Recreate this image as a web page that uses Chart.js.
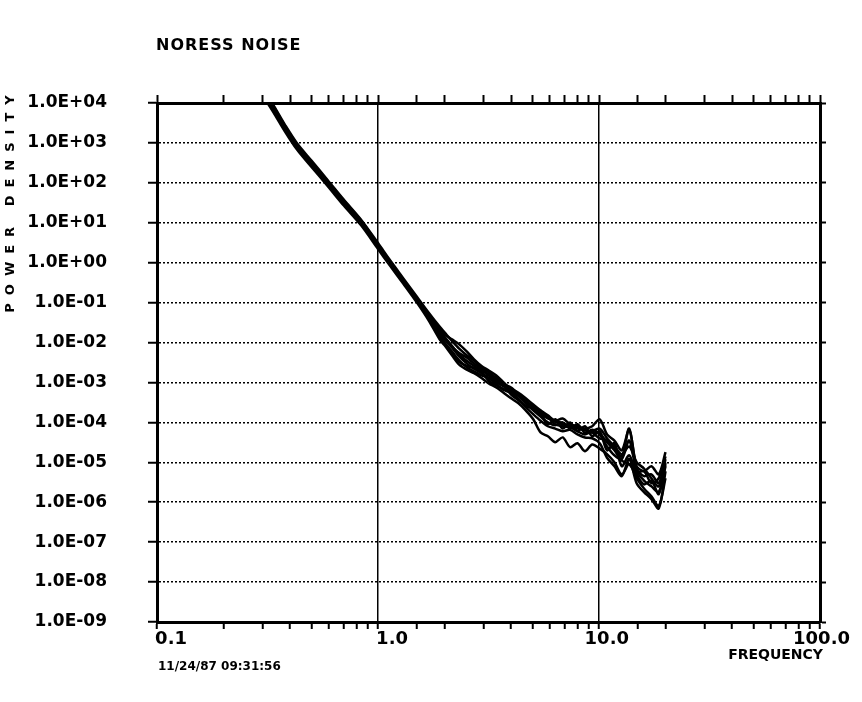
<!DOCTYPE html>
<html>
<head>
<meta charset="utf-8">
<title>NORESS NOISE</title>
<script src="https://cdn.jsdelivr.net/npm/chart.js@4.4.0/dist/chart.umd.min.js"></script>
<style>
  body { margin: 0; background: #fff; }
  #wrap { width: 862px; height: 702px; }
</style>
</head>
<body>
<div id="wrap"><canvas id="myChart" width="862" height="702"></canvas></div>
<script>
const titleText = 'NORESS NOISE';
const yTitle = 'POWER DENSITY';
const xTitle = 'FREQUENCY';
const stampText = '11/24/87 09:31:56';

const xTickValues = [0.1, 1, 10, 100];
const xTickLabels = ['0.1', '1.0', '10.0', '100.0'];
const yTickValues = [1e4, 1e3, 1e2, 1e1, 1e0, 1e-1, 1e-2, 1e-3, 1e-4, 1e-5, 1e-6, 1e-7, 1e-8, 1e-9];
const yTickLabels = ['1.0E+04', '1.0E+03', '1.0E+02', '1.0E+01', '1.0E+00', '1.0E-01', '1.0E-02',
                     '1.0E-03', '1.0E-04', '1.0E-05', '1.0E-06', '1.0E-07', '1.0E-08', '1.0E-09'];

// frequencies (Hz) shared by every spectrum
const freq = [0.30, 0.34, 0.38, 0.43, 0.50, 0.59, 0.70, 0.84, 1.00, 1.13,
              1.30, 1.50, 1.70, 1.90, 2.00, 2.16, 2.33, 2.52, 2.72, 2.94,
              3.17, 3.43, 3.70, 4.00, 4.32, 4.66, 5.04, 5.44, 5.87, 6.34,
              6.85, 7.40, 7.99, 8.63, 9.32, 10.07, 10.87, 11.74, 12.68, 13.70,
              14.80, 15.98, 17.26, 18.64, 20.00];

const spectrumA = [2.2e4, 7.2e3, 2.5e3, 8.9e2, 3.2e2, 1.1e2, 35, 11, 2.8, 1.07,
                   0.38, 0.126, 0.047, 0.020, 0.014, 8.3e-3, 5.0e-3, 3.5e-3, 2.6e-3, 2.0e-3,
                   1.5e-3, 1.07e-3, 8.3e-4, 6.3e-4, 4.8e-4, 3.3e-4, 2.4e-4, 1.6e-4, 1.26e-4, 1.1e-4,
                   9.5e-5, 8.3e-5, 7.6e-5, 6.3e-5, 5.6e-5, 5.2e-5, 3.2e-5, 2.0e-5, 1.1e-5, 8.9e-6,
                   5.6e-6, 6e-6, 3e-6, 4e-6, 1.4e-5];
const spectrumB = [2.5e4, 8.0e3, 2.8e3, 9.8e2, 3.6e2, 1.2e2, 38, 11.8, 3.1, 1.18,
                   0.41, 0.14, 0.055, 0.025, 0.018, 0.011, 7.0e-3, 4.8e-3, 3.5e-3, 2.4e-3,
                   1.8e-3, 1.3e-3, 9.5e-4, 7.0e-4, 5.5e-4, 4.0e-4, 2.8e-4, 2.0e-4, 1.5e-4, 1.1e-4,
                   1.25e-4, 9e-5, 8e-5, 7e-5, 8e-5, 1.2e-4, 5e-5, 3.5e-5, 2.0e-5, 6.6e-5,
                   8e-6, 6e-6, 8e-6, 5e-6, 1.8e-5];
const spectrumC = [1.6e4, 5.3e3, 1.9e3, 6.8e2, 2.5e2, 85, 27, 8.5, 2.2, 0.86,
                   0.30, 0.10, 0.035, 0.012, 8.5e-3, 4.8e-3, 2.8e-3, 2.1e-3, 1.7e-3, 1.3e-3,
                   9.5e-4, 7.5e-4, 5.5e-4, 4.0e-4, 3.0e-4, 2.0e-4, 1.2e-4, 5.6e-5, 4.5e-5, 3.2e-5,
                   4.2e-5, 2.4e-5, 3.0e-5, 1.9e-5, 2.8e-5, 2.2e-5, 1.6e-5, 1.0e-5, 5e-6, 9e-6,
                   4e-6, 2.2e-6, 1.4e-6, 8e-7, 4e-6];
const spectrumD = [1.8e4, 6.0e3, 2.1e3, 7.5e2, 2.8e2, 95, 30, 9.5, 2.4, 0.95,
                   0.33, 0.11, 0.040, 0.015, 0.010, 6.0e-3, 3.6e-3, 2.4e-3, 1.9e-3, 1.5e-3,
                   1.3e-3, 1.0e-3, 8.0e-4, 5.0e-4, 3.6e-4, 2.6e-4, 2.2e-4, 1.6e-4, 9e-5, 1.2e-4,
                   7e-5, 1.0e-4, 6e-5, 8e-5, 4.5e-5, 6e-5, 2.0e-5, 3.0e-5, 8e-6, 1.5e-5,
                   5e-6, 2.8e-6, 3.5e-6, 1.6e-6, 8e-6];
const spectrumE = [2.1e4, 6.9e3, 2.4e3, 8.5e2, 3.1e2, 1.05e2, 33, 10.3, 2.7, 1.02,
                   0.38, 0.13, 0.050, 0.022, 0.016, 0.012, 9.0e-3, 6.0e-3, 3.8e-3, 2.6e-3,
                   2.0e-3, 1.5e-3, 1.0e-3, 6.5e-4, 4.8e-4, 3.5e-4, 2.4e-4, 1.8e-4, 1.3e-4, 1.05e-4,
                   9e-5, 8e-5, 7e-5, 6.5e-5, 5.5e-5, 4e-5, 3.5e-5, 2.2e-5, 1.4e-5, 7e-5,
                   7e-6, 4.5e-6, 5e-6, 3e-6, 1.2e-5];
const spectrumF = [1.9e4, 6.3e3, 2.2e3, 7.8e2, 2.9e2, 97, 31, 9.8, 2.5, 0.98,
                   0.34, 0.115, 0.038, 0.014, 9.5e-3, 5.5e-3, 3.3e-3, 2.6e-3, 2.3e-3, 1.8e-3,
                   1.1e-3, 8.5e-4, 6.5e-4, 5.5e-4, 3.8e-4, 2.4e-4, 1.6e-4, 1.1e-4, 8e-5, 7e-5,
                   6e-5, 6.5e-5, 5e-5, 4.2e-5, 4e-5, 3e-5, 1.3e-5, 8e-6, 4.5e-6, 1.2e-5,
                   3e-6, 1.8e-6, 1.2e-6, 7e-7, 6e-6];
const spectrumG = [2.0e4, 6.6e3, 2.3e3, 8.1e2, 3.0e2, 1.0e2, 32, 10, 2.6, 1.0,
                   0.35, 0.12, 0.043, 0.017, 0.012, 7.5e-3, 4.5e-3, 3.0e-3, 2.2e-3, 1.7e-3,
                   1.3e-3, 9.0e-4, 6.8e-4, 5.8e-4, 4.5e-4, 3.0e-4, 2.0e-4, 1.4e-4, 1.0e-4, 8.5e-5,
                   1.0e-4, 7e-5, 9e-5, 5.5e-5, 6.5e-5, 5e-5, 2.5e-5, 1.5e-5, 1.2e-5, 3.5e-5,
                   6e-6, 3.5e-6, 2.5e-6, 1.8e-6, 9e-6];
const spectrumH = [2.3e4, 7.5e3, 2.6e3, 9.2e2, 3.3e2, 1.12e2, 36, 11.2, 2.9, 1.1,
                   0.37, 0.125, 0.045, 0.018, 0.013, 7.8e-3, 5.5e-3, 4.2e-3, 3.0e-3, 2.2e-3,
                   1.6e-3, 1.2e-3, 9.0e-4, 7.5e-4, 5.0e-4, 3.2e-4, 2.6e-4, 1.9e-4, 1.4e-4, 9e-5,
                   8e-5, 7.5e-5, 6e-5, 5e-5, 6e-5, 7e-5, 4e-5, 2.5e-5, 1.6e-5, 2.5e-5,
                   1.0e-5, 7e-6, 4e-6, 2.5e-6, 1.0e-5];

const spectra = [spectrumA, spectrumB, spectrumC, spectrumD, spectrumE, spectrumF, spectrumG, spectrumH];

function isDecade(v) {
    const l = Math.log10(v);
    return Math.abs(l - Math.round(l)) < 1e-6;
}
function labelFor(v, values, labels) {
    for (let i = 0; i < values.length; i++) {
        if (Math.abs(v / values[i] - 1) < 1e-6) return labels[i];
    }
    return '';
}

const clear = 'rgba(0,0,0,0)';
const tickFont = { family: 'DejaVu Sans', size: 17, weight: 'bold' };

// texts that sit outside the axes
const plotterText = {
    id: 'plotterText',
    afterDraw(chart) {
        const ctx = chart.ctx;
        ctx.save();
        ctx.fillStyle = '#000';
        ctx.textBaseline = 'middle';

        ctx.font = 'bold 16px "DejaVu Sans"';
        ctx.letterSpacing = '1px';
        ctx.textAlign = 'left';
        ctx.fillText(titleText, 156, 46);

        ctx.font = 'bold 12px "DejaVu Sans"';
        ctx.letterSpacing = '0px';
        ctx.fillText(stampText, 158, 667);

        ctx.font = 'bold 14px "DejaVu Sans"';
        ctx.letterSpacing = '0px';
        ctx.textAlign = 'right';
        ctx.fillText(xTitle, 823, 655);

        ctx.translate(11, 200);
        ctx.rotate(-Math.PI / 2);
        ctx.font = 'bold 13px "DejaVu Sans"';
        ctx.letterSpacing = '8px';
        ctx.textAlign = 'center';
        ctx.fillText(yTitle, 0, 0);
        ctx.restore();
    }
};

const datasets = spectra.map(s => ({
    data: freq.map((f, i) => ({ x: f, y: s[i] })),
    borderColor: '#000',
    borderWidth: 2.5,
    pointRadius: 0,
    tension: 0.3,
    fill: false
}));

const config = {
    type: 'line',
    data: { datasets: datasets },
    plugins: [plotterText],
    options: {
        responsive: false,
        animation: false,
        layout: { padding: 0 },
        plugins: { legend: { display: false }, title: { display: false }, tooltip: { enabled: false } },
        scales: {
            x: {
                type: 'logarithmic', position: 'bottom', min: 0.1, max: 100,
                afterFit: s => { s.height = 80; },
                ticks: {
                    autoSkip: false, maxRotation: 0, align: 'end', labelOffset: 30, padding: 0,
                    color: '#000', font: { family: 'DejaVu Sans', size: 18, weight: 'bold' },
                    callback: v => labelFor(v, xTickValues, xTickLabels)
                },
                grid: {
                    color: c => isDecade(c.tick.value) ? '#000' : clear,
                    lineWidth: 1.5, tickColor: '#000', tickLength: 7, tickWidth: 2
                },
                border: { color: '#000', width: 3 }
            },
            xTop: {
                type: 'logarithmic', position: 'top', min: 0.1, max: 100,
                afterFit: s => { s.height = 103; },
                ticks: { display: false },
                grid: { drawOnChartArea: false, tickColor: '#000', tickLength: 8, tickWidth: 2 },
                border: { color: '#000', width: 3 }
            },
            y: {
                type: 'logarithmic', position: 'left', min: 1e-9, max: 1e4,
                afterFit: s => { s.width = 157; },
                ticks: {
                    autoSkip: false, padding: 41, color: '#000', font: tickFont,
                    callback: v => labelFor(v, yTickValues, yTickLabels)
                },
                grid: {
                    color: c => isDecade(c.tick.value) ? '#000' : clear,
                    lineWidth: 1.5,
                    tickColor: c => isDecade(c.tick.value) ? '#000' : clear,
                    tickLength: 9, tickWidth: 2
                },
                border: { color: '#000', width: 3, dash: [2, 2] }
            },
            yRight: {
                type: 'logarithmic', position: 'right', min: 1e-9, max: 1e4,
                afterFit: s => { s.width = 42; },
                ticks: { display: false },
                grid: {
                    drawOnChartArea: false,
                    tickColor: c => isDecade(c.tick.value) ? '#000' : clear,
                    tickLength: 6, tickWidth: 2
                },
                border: { color: '#000', width: 3 }
            }
        }
    }
};

const myChart = new Chart(document.getElementById('myChart'), config);
</script>
</body>
</html>
